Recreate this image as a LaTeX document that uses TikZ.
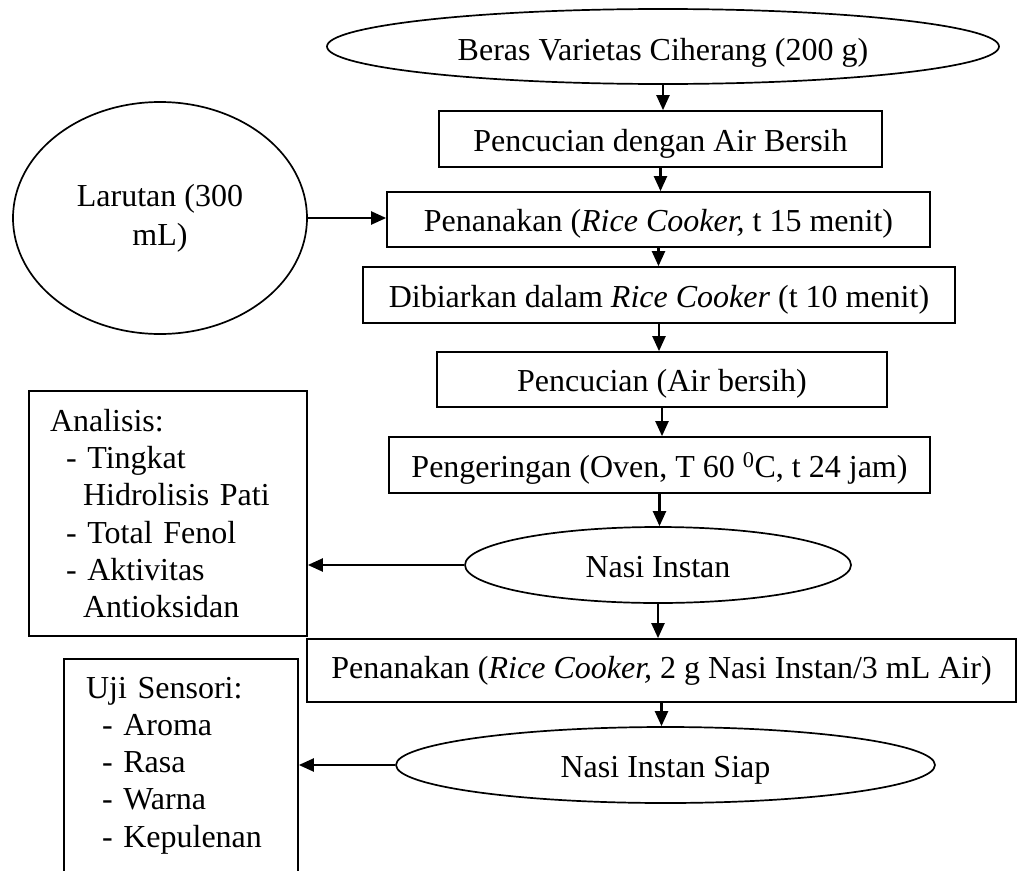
\documentclass[tikz,border=0pt]{standalone}
\usepackage{fontspec}
\setmainfont{Liberation Serif}
\usetikzlibrary{arrows.meta,shapes.geometric,calc}
\tikzset{
  base/.style={draw, line width=1.7pt, inner sep=0pt, font=\fontsize{32}{37.2}\selectfont},
  oneline/.style={text height=30pt, text depth=6pt},
  procbox/.style={base, rectangle, oneline},
  oval/.style={base, ellipse, oneline},
  listbox/.style={base, rectangle, align=left},
  arr/.style={line width=2.2pt, -{Triangle[length=15pt,width=13pt]}}
}
\begin{document}
\begin{tikzpicture}[x=1pt,y=-1pt]
\path[use as bounding box] (0,0) rectangle (1017,870);
\clip (0,0) rectangle (1017,870);
\fill[white] (0,0) rectangle (1017,870);

\node[oval, minimum width=672pt, minimum height=75pt, text height=32pt, text depth=4pt] (e1) at (663,46.5) {Beras Varietas Ciherang (200 g)};
\node[procbox, minimum width=443pt, minimum height=56pt] (b1) at (660.5,139) {Pencucian dengan Air Bersih};
\node[procbox, minimum width=543pt, minimum height=55pt] (b2) at (658.5,219.5) {Penanakan (\textit{Rice Cooker,} t 15 menit)};
\node[procbox, minimum width=592pt, minimum height=56pt] (b3) at (659,295) {Dibiarkan dalam \textit{Rice Cooker} (t 10 menit)};
\node[procbox, minimum width=450pt, minimum height=55pt] (b4) at (662,379.5) {Pencucian (Air bersih)};
\node[procbox, minimum width=541pt, minimum height=56pt] (b5) at (659.5,465) {Pengeringan (Oven, T 60 \textsuperscript{0}C, t 24 jam)};
\node[oval, minimum width=386pt, minimum height=76pt] (ni) at (658,565) {Nasi Instan};
\node[procbox, minimum width=709pt, minimum height=63pt, text height=26pt, text depth=10pt] (b6) at (661.5,670.5) {Penanakan (\textit{Rice Cooker,} 2 g Nasi Instan/3 mL Air)};
\node[oval, minimum width=539pt, minimum height=76pt] (nis) at (665.5,765) {Nasi Instan Siap};

\node[base, ellipse, minimum width=294pt, minimum height=232pt, align=center, font=\fontsize{32}{39}\selectfont] (lar) at (160,218) {Larutan (300\\mL)};

\node[listbox, minimum width=278pt, minimum height=245pt, text width=236pt] (ana) at (168,513.5)
  {Analisis:\\
   \hspace*{16pt}- Tingkat\\
   \hspace*{33pt}Hidrolisis Pati\\
   \hspace*{16pt}- Total Fenol\\
   \hspace*{16pt}- Aktivitas\\
   \hspace*{33pt}Antioksidan};

\node[listbox, minimum width=234pt, minimum height=213pt, text width=190pt] (uji) at (181,765.5)
  {Uji Sensori:\\
   \hspace*{16pt}- Aroma\\
   \hspace*{16pt}- Rasa\\
   \hspace*{16pt}- Warna\\
   \hspace*{16pt}- Kepulenan};

\draw[arr] (e1.south) -- (e1.south |- b1.north);
\draw[arr] (b1.south) -- (b1.south |- b2.north);
\draw[arr] (b2.south) -- (b2.south |- b3.north);
\draw[arr] (b3.south) -- (b3.south |- b4.north);
\draw[arr] (b4.south) -- (b4.south |- b5.north);
\draw[arr] (b5.south) -- (b5.south |- ni.north);
\draw[arr] (ni.south) -- (ni.south |- b6.north);
\draw[arr] (b6.south) -- (b6.south |- nis.north);
\draw[arr] (lar.east) -- (lar.east -| b2.west);
\draw[arr] (ni.west) -- (ni.west -| ana.east);
\draw[arr] (nis.west) -- (nis.west -| uji.east);
\end{tikzpicture}
\end{document}
